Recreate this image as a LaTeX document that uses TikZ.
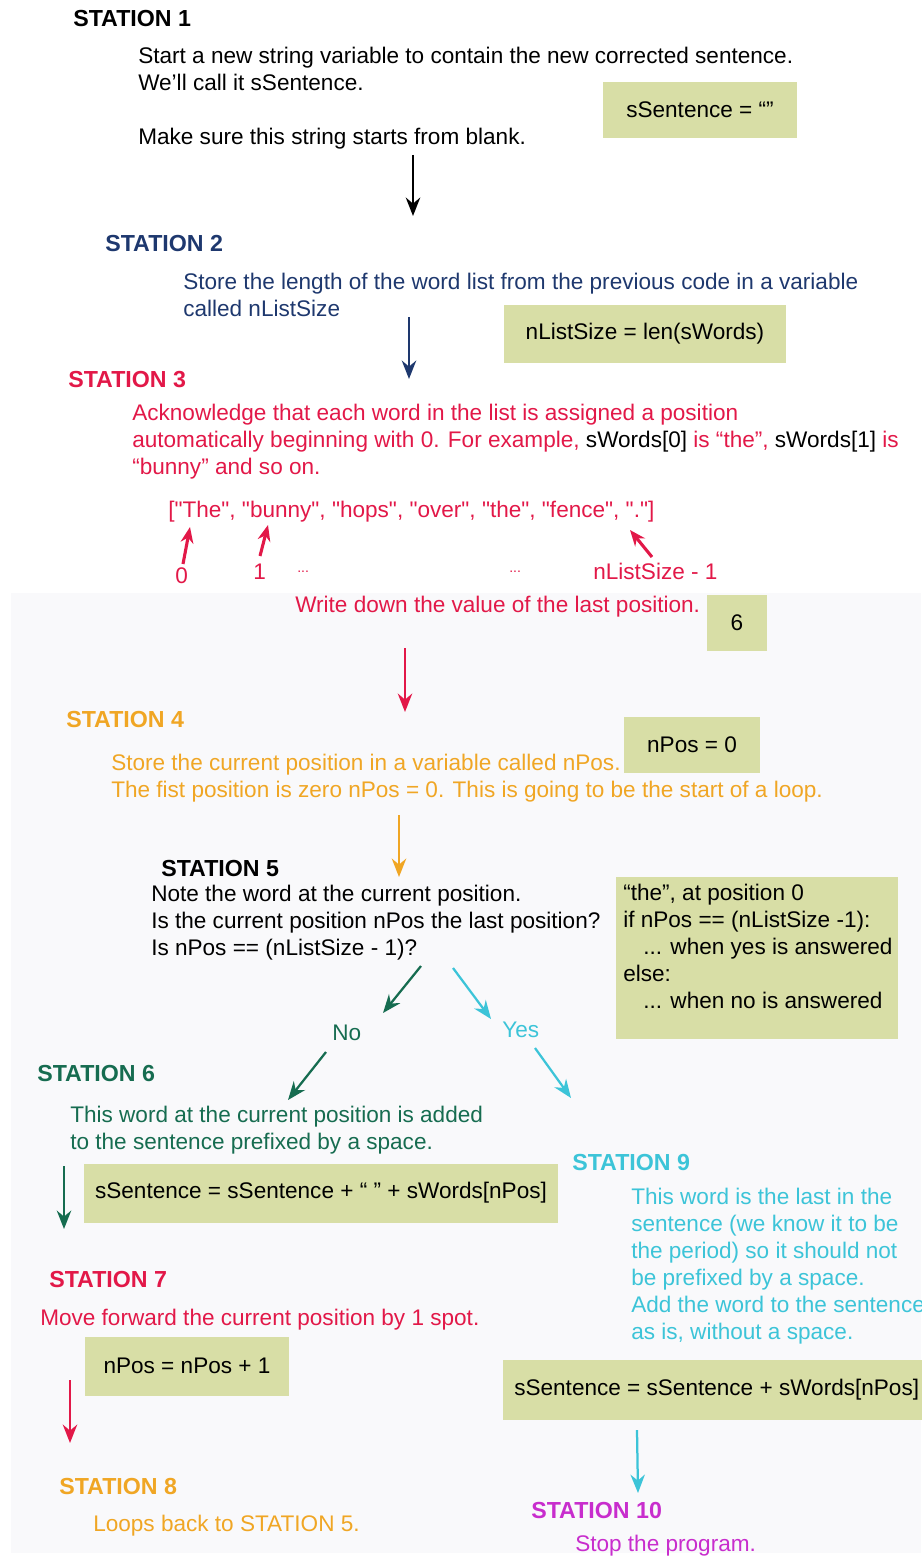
\documentclass[tikz,border=0pt]{standalone}
\usepackage{fontspec}
\setmainfont{Liberation Sans}[Ligatures=TeXOff]
\usetikzlibrary{arrows.meta}

\definecolor{navy}{RGB}{30,56,110}
\definecolor{crim}{RGB}{226,24,72}
\definecolor{amber}{RGB}{240,166,36}
\definecolor{pine}{RGB}{22,108,80}
\definecolor{aqua}{RGB}{60,196,216}
\definecolor{mag}{RGB}{200,45,205}
\definecolor{boxgreen}{RGB}{216,222,166}
\definecolor{bggray}{RGB}{249,249,251}

\begin{document}
\begin{tikzpicture}[
  x=0.025cm, y=-0.025cm,
  >={Stealth[length=0.46cm, width=0.36cm]},
  every node/.style={inner sep=0pt, font=\fontsize{16.05}{19.2}\selectfont},
  txt/.style={anchor=base west},
  txtm/.style={anchor=north west, align=left, yshift=0.3975cm},
  head/.style={anchor=base west, font=\fontsize{16.5}{19.2}\selectfont\bfseries},
  codebox/.style={fill=boxgreen, inner sep=0pt},
  arr/.style={->, line width=1.6pt},
  ptr/.style={->, line width=2.2pt, crim, >={Stealth[length=0.4cm, width=0.32cm]}}
]
  \useasboundingbox (0,0) rectangle (921,1557);
  \fill[bggray] (11,593) rectangle (921,1553);

  \node[head] (st1) at (73,27) {STATION 1};
  \node[txtm] (t1) at (138,63) {Start a new string variable to contain the new corrected sentence.\\We’ll call it sSentence.};
  \node[txt] (t1b) at (138,145) {Make sure this string starts from blank.};
  \node[codebox, minimum width=4.825cm, minimum height=1.375cm] (c1) at (700,110) {sSentence = “”};
  \coordinate (a1s) at (413,155); \coordinate (a1e) at (413,216);
  \draw[arr] (a1s) -- (a1e);

  \node[head, navy] (st2) at (105,251) {STATION 2};
  \node[txtm, navy] (t2) at (183,289) {Store the length of the word list from the previous code in a variable\\called nListSize};
  \node[codebox, minimum width=7.05cm, minimum height=1.425cm] (c2) at (645,334) {nListSize = len(sWords)};
  \coordinate (a2s) at (409,317); \coordinate (a2e) at (409,379);
  \draw[arr, navy] (a2s) -- (a2e);

  \node[head, crim] (st3) at (68,387) {STATION 3};
  \node[txtm, crim] (t3) at (132,420) {Acknowledge that each word in the list is assigned a position\\automatically beginning with 0. For example, \textcolor{black}{sWords[0]} is “the”, \textcolor{black}{sWords[1]} is\\“bunny” and so on.};
  \node[txt, crim] (lst) at (168,517) {["The", "bunny", "hops", "over", "the", "fence", "."]};
  \node[txt, crim] (i0) at (175,583) {0};
  \node[txt, crim] (i1) at (253,579) {1};
  \node[txt, crim, font=\fontsize{10}{10}\selectfont] (d1) at (297,572) {...};
  \node[txt, crim, font=\fontsize{10}{10}\selectfont] (d2) at (509,572) {...};
  \node[txt, crim] (iN) at (593,579) {nListSize - 1};
  \coordinate (p0s) at (183,564); \coordinate (p0e) at (190,527);
  \coordinate (p1s) at (260,556); \coordinate (p1e) at (268,525);
  \coordinate (pNs) at (652,557); \coordinate (pNe) at (630,530);
  \draw[ptr] (p0s) -- (p0e); \draw[ptr] (p1s) -- (p1e); \draw[ptr] (pNs) -- (pNe);
  \node[txt, crim] (t3b) at (295,612) {Write down the value of the last position.};
  \node[codebox, minimum width=1.5cm, minimum height=1.4cm] (c3) at (737,623) {6};
  \coordinate (a3s) at (405,648); \coordinate (a3e) at (405,712);
  \draw[arr, crim] (a3s) -- (a3e);

  \node[head, amber] (st4) at (66,727) {STATION 4};
  \node[txtm, amber] (t4) at (111,770) {Store the current position in a variable called nPos.\\The fist position is zero nPos = 0. This is going to be the start of a loop.};
  \node[codebox, minimum width=3.4cm, minimum height=1.4cm] (c4) at (692,745) {nPos = 0};
  \coordinate (a4s) at (399,815); \coordinate (a4e) at (399,877);
  \draw[arr, amber] (a4s) -- (a4e);

  \node[head] (st5) at (161,876) {STATION 5};
  \node[txtm] (t5) at (151,901) {Note the word at the current position.\\Is the current position nPos the last position?\\Is nPos == (nListSize - 1)?};
  \node[codebox, minimum width=7.05cm, minimum height=4.05cm] (c5) at (757,958) {};
  \node[txtm] (c5t) at (623,900) {“the”, at position 0\\if nPos == (nListSize -1):\\\hspace*{0.5cm}... when yes is answered\\else:\\\hspace*{0.5cm}... when no is answered};
  \node[txt, pine] (no) at (332,1040) {No};
  \node[txt, aqua] (yes) at (502,1037) {Yes};
  \coordinate (n1s) at (421,966); \coordinate (n1e) at (383,1013);
  \coordinate (n2s) at (326,1052); \coordinate (n2e) at (288,1100);
  \coordinate (y1s) at (453,968); \coordinate (y1e) at (491,1019);
  \coordinate (y2s) at (535,1048); \coordinate (y2e) at (571,1098);
  \draw[arr, pine] (n1s) -- (n1e); \draw[arr, pine] (n2s) -- (n2e);
  \draw[arr, aqua] (y1s) -- (y1e); \draw[arr, aqua] (y2s) -- (y2e);

  \node[head, pine] (st6) at (37,1081) {STATION 6};
  \node[txtm, pine] (t6) at (70,1122) {This word at the current position is added\\to the sentence prefixed by a space.};
  \node[codebox, minimum width=11.85cm, minimum height=1.475cm] (c6) at (321,1193) {sSentence = sSentence + “ ” + sWords[nPos]};
  \coordinate (a6s) at (64,1166); \coordinate (a6e) at (64,1229);
  \draw[arr, pine] (a6s) -- (a6e);

  \node[head, crim] (st7) at (49,1287) {STATION 7};
  \node[txt, crim] (t7) at (40,1325) {Move forward the current position by 1 spot.};
  \node[codebox, minimum width=5.075cm, minimum height=1.475cm] (c7) at (187,1366) {nPos = nPos + 1};
  \coordinate (a7s) at (70,1380); \coordinate (a7e) at (70,1443);
  \draw[arr, crim] (a7s) -- (a7e);

  \node[head, amber] (st8) at (59,1494) {STATION 8};
  \node[txt, amber] (t8) at (93,1531) {Loops back to STATION 5.};

  \node[head, aqua] (st9) at (572,1170) {STATION 9};
  \node[txtm, aqua] (t9) at (631,1204) {This word is the last in the\\sentence (we know it to be\\the period) so it should not\\be prefixed by a space.\\Add the word to the sentence\\as is, without a space.};
  \node[codebox, anchor=west, inner xsep=0.275cm, minimum height=1.5cm] (c9) at (503,1390) {sSentence = sSentence + sWords[nPos]};
  \coordinate (a9s) at (637,1430); \coordinate (a9e) at (638,1493);
  \draw[arr, aqua] (a9s) -- (a9e);

  \node[head, mag] (st10) at (531,1518) {STATION 10};
  \node[txt, mag] (t10) at (575,1551) {Stop the program.};
\end{tikzpicture}
\end{document}
